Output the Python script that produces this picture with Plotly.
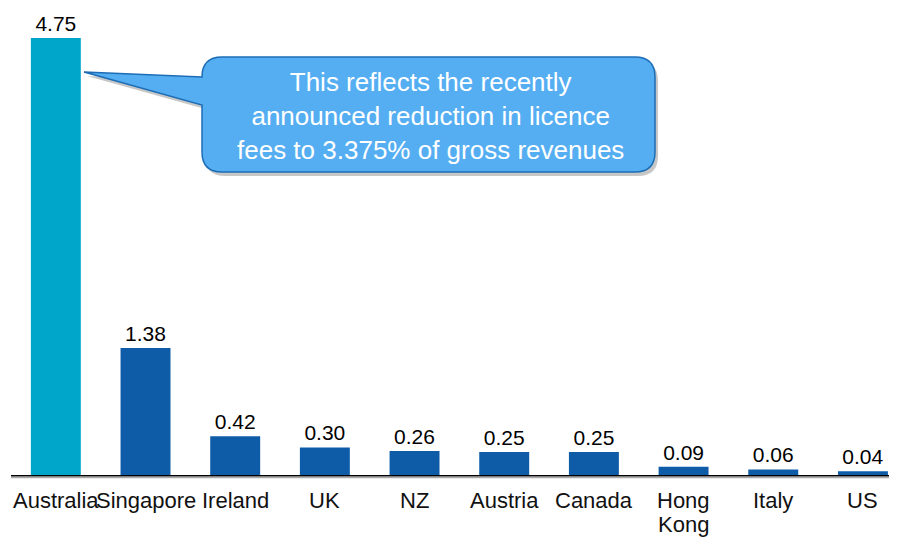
import plotly.graph_objects as go

countries = ['Australia', 'Singapore', 'Ireland', 'UK', 'NZ', 'Austria',
             'Canada', 'Hong Kong', 'Italy', 'US']
tick_labels = ['Australia', 'Singapore', 'Ireland', 'UK', 'NZ', 'Austria',
               'Canada', 'Hong<br>Kong', 'Italy', 'US']
values = [4.75, 1.38, 0.42, 0.30, 0.26, 0.25, 0.25, 0.09, 0.06, 0.04]
value_labels = ['4.75', '1.38', '0.42', '0.30', '0.26', '0.25', '0.25',
                '0.09', '0.06', '0.04']

C_TEAL = '#00a6c9'
C_BLUE = '#0e5ca8'
C_CALLOUT = '#55aef2'
C_CALLOUT_LINE = '#1c6db6'
FONT = 'Liberation Sans, Arial, sans-serif'

# page body has an 8px margin, so the figure is drawn from (8, 8)
OFF = 8
W, H = 897 - OFF, 537 - OFF
M_L, M_R, M_T, M_B = 11 - OFF, 0, 15 - OFF, 62

bar_colors = [C_TEAL] + [C_BLUE] * (len(countries) - 1)


def _px(x, y):
    # window pixel position -> paper coords
    x, y = x - OFF, y - OFF
    pw = W - M_L - M_R
    ph = H - M_T - M_B
    return (x - M_L) / pw, (H - M_B - y) / ph


def _path(pts):
    out = []
    for p in pts:
        cmd, coords = p[0], p[1:]
        conv = []
        for i in range(0, len(coords), 2):
            px, py = _px(coords[i], coords[i + 1])
            conv.append(f'{px:.5f},{py:.5f}')
        out.append(cmd + ' ' + ' '.join(conv))
    return ' '.join(out) + ' Z'


def callout(dx=0, dy=0):
    x0, x1, y0, y1, r = 202 + dx, 655 + dx, 57 + dy, 172 + dy, 20
    return _path([
        ('M', 84 + dx, 72 + dy),
        ('L', x0, 77 + dy),
        ('L', x0, y0 + r),
        ('Q', x0, y0, x0 + r, y0),
        ('L', x1 - r, y0),
        ('Q', x1, y0, x1, y0 + r),
        ('L', x1, y1 - r),
        ('Q', x1, y1, x1 - r, y1),
        ('L', x0 + r, y1),
        ('Q', x0, y1, x0, y1 - r),
        ('L', x0, 105 + dy),
    ])


fig = go.Figure(go.Bar(
    x=countries, y=values,
    marker=dict(color=bar_colors, line=dict(width=0)),
    text=value_labels, textposition='outside', cliponaxis=False,
    textfont=dict(size=21, color='#000000', family=FONT),
    width=0.557,
))

# category labels, drawn as annotations so the wrapped one has tight leading
for cat, lab in zip(countries, tick_labels):
    for i, line in enumerate(lab.split('<br>')):
        _, ly = _px(0, 501 + 23 * i)
        fig.add_annotation(
            xref='x', yref='paper', x=cat, y=ly,
            xanchor='center', yanchor='middle', showarrow=False,
            borderpad=0,
            text=line, font=dict(size=22, color='#111111', family=FONT),
        )

# callout shadow + bubble
fig.add_shape(type='path', xref='paper', yref='paper', path=callout(3, 4),
              fillcolor='rgba(0,0,0,0.22)', line=dict(width=0), layer='above')
fig.add_shape(type='path', xref='paper', yref='paper', path=callout(),
              fillcolor=C_CALLOUT, line=dict(color=C_CALLOUT_LINE, width=1.5),
              layer='above')

cx, cy = _px(430, 116)
fig.add_annotation(
    xref='paper', yref='paper', x=cx, y=cy, xanchor='center', yanchor='middle',
    text='This reflects the recently<br>announced reduction in licence<br>'
         'fees to 3.375% of gross revenues',
    showarrow=False, align='center',
    font=dict(size=26, color='#ffffff', family=FONT),
)

# shadow under the axis line
fig.add_shape(type='line', xref='paper', yref='paper', x0=0, x1=1,
              y0=-0.005, y1=-0.005, line=dict(color='#aaaaaa', width=2))

fig.update_layout(
    width=W, height=H,
    margin=dict(l=M_L, r=M_R, t=M_T, b=M_B),
    paper_bgcolor='#ffffff', plot_bgcolor='#ffffff',
    font=dict(family=FONT, color='#000000', size=21),
    showlegend=False,
    xaxis=dict(range=[-0.5, 9.38], showgrid=False, showline=True,
               linecolor='#000000', linewidth=1.5, ticks='',
               showticklabels=False, automargin=False),
    yaxis=dict(range=[0, 5.0], visible=False, showgrid=False,
               automargin=False),
)

fig.write_html('out.html')
